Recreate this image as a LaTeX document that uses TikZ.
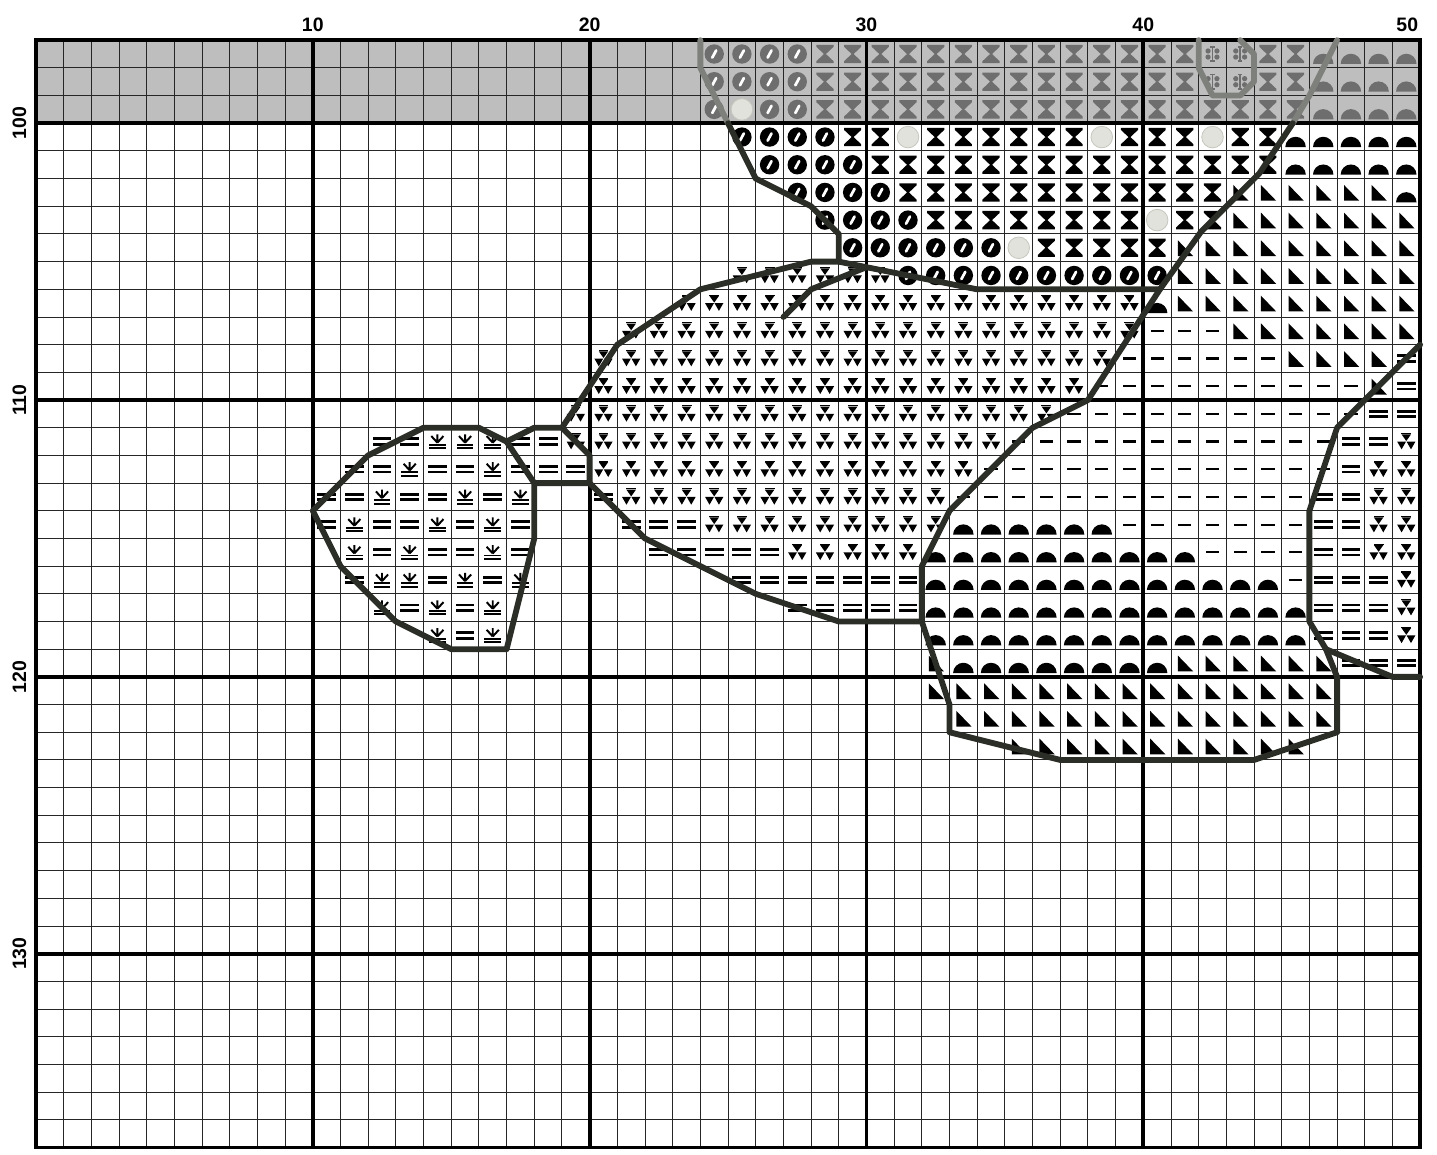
\documentclass[tikz,border=0pt]{standalone}
\usepackage{fontspec}
\setsansfont{Liberation Sans}
\usepackage{tikz}
\usetikzlibrary{calc}
\usepackage{xcolor}

\definecolor{stitchdark}{HTML}{2A2E26}
\definecolor{stitchgrey}{HTML}{7E817B}
\definecolor{rowshade}{HTML}{BEBEBE}
\definecolor{shadesym}{HTML}{6E6E6E}
\definecolor{wfill}{HTML}{E2E2DC}
\definecolor{wline}{HTML}{C6C6BE}
\colorlet{symcol}{black}

% one macro per chart symbol, drawn in cell (col,row)
\newcommand\symo[2]{\begin{scope}[shift={(#1+.5,#2+.5)},yscale=-1]
  \fill[symcol] (0,0) circle (.35);
  \draw[white, line width=2.8pt, line cap=round] (-.07,-.13) -- (.07,.13);
\end{scope}}
\newcommand\symx[2]{\begin{scope}[shift={(#1+.5,#2+.5)},yscale=-1]
  \fill[symcol] (-.31,.33) -- (.31,.33) -- (.31,.26) -- (.035,0) -- (.31,-.26) -- (.31,-.33)
    -- (-.31,-.33) -- (-.31,-.26) -- (-.035,0) -- (-.31,.26) -- cycle;
\end{scope}}
\newcommand\symw[2]{\begin{scope}[shift={(#1+.5,#2+.5)},yscale=-1]
  \filldraw[fill=wfill, draw=wline, line width=.8pt] (0,0) circle (.39);
\end{scope}}
\newcommand\symt[2]{\begin{scope}[shift={(#1+.5,#2+.5)},yscale=-1]
  \fill[symcol] (-.18,.31) rectangle (.18,.27);
  \fill[symcol] (-.17,.26) -- (.17,.26) -- (0,.02) -- cycle;
  \fill[symcol] (-.33,.0) -- (-.01,.0) -- (-.17,-.28) -- cycle;
  \fill[symcol] (.01,.0) -- (.33,.0) -- (.17,-.28) -- cycle;
\end{scope}}
\newcommand\syme[2]{\begin{scope}[shift={(#1+.5,#2+.5)},yscale=-1]
  \fill[symcol] (-.34,.15) rectangle (.34,.05);
  \fill[symcol] (-.34,-.05) rectangle (.34,-.15);
\end{scope}}
\newcommand\symd[2]{\begin{scope}[shift={(#1+.5,#2+.5)},yscale=-1]
  \fill[symcol] (-.24,.04) rectangle (.24,-.04);
\end{scope}}
\newcommand\symh[2]{\begin{scope}[shift={(#1+.5,#2+.5)},yscale=-1]
  \fill[symcol] (-.37,-.36) arc (180:0:.37) -- cycle;
\end{scope}}
\newcommand\symr[2]{\begin{scope}[shift={(#1+.5,#2+.5)},yscale=-1]
  \fill[symcol] (-.25,.27) -- (-.25,-.3) -- (.3,-.3) -- cycle;
\end{scope}}
\newcommand\syms[2]{\begin{scope}[shift={(#1+.5,#2+.5)},yscale=-1]
  \draw[symcol, line width=2pt] (0,-.04) -- (0,.26) (0,-.04) -- (-.22,.2) (0,-.04) -- (.22,.2);
  \fill[symcol] (-.3,-.08) rectangle (.3,-.15);
  \fill[symcol] (-.3,-.21) rectangle (.3,-.28);
\end{scope}}
\newcommand\symf[2]{\begin{scope}[shift={(#1+.5,#2+.5)},yscale=-1]
  \draw[symcol, line width=1.6pt] (0,-.26) -- (0,.26) (-.08,.26) -- (.08,.26) (-.08,-.26) -- (.08,-.26);
  \foreach \px/\py in {-.16/.11, .16/.11, -.16/-.11, .16/-.11}
    \fill[symcol] (\px,\py) circle (.095);
\end{scope}}

\begin{document}
\begin{tikzpicture}[
        x=1cm, y=-1cm,
        gridline/.style={line width=1pt, black!85},
        majorline/.style={line width=4pt, black, line cap=rect},
        stitch/.style={line width=6pt, stitchdark, line join=round, line cap=round},
        greystitch/.style={line width=6pt, stitchgrey, line join=round, line cap=round},
        collabel/.style={font=\sffamily\bfseries\fontsize{20}{24}\selectfont},
        rowlabel/.style={font=\sffamily\bfseries\fontsize{20}{24}\selectfont, rotate=90}
    ]
    \useasboundingbox (-1.30,95.55) rectangle (50.61,137.25);

    % ============================================================
    % SHADED ROWS AND GRID
    % ============================================================
    \fill[fill=rowshade] (0,97) rectangle (50,100);
    \foreach \c in {0,...,50} \draw[gridline] (\c,97) -- (\c,137);
    \foreach \r in {97,...,137} \draw[gridline] (0,\r) -- (50,\r);

    % ============================================================
    % SYMBOLS: shaded rows
    % ============================================================
    \begin{scope}
    \colorlet{symcol}{shadesym}
    \foreach \r/\a/\b/\s in {
        97/24/27/o, 97/28/41/x, 97/42/43/f, 97/44/45/x, 97/46/49/h,
        98/24/27/o, 98/28/41/x, 98/42/43/f, 98/44/45/x, 98/46/49/h,
        99/24/24/o, 99/25/25/w, 99/26/27/o, 99/28/45/x, 99/46/49/h}
      \foreach \c in {\a,...,\b} {\csname sym\s\endcsname{\c}{\r}};
    \end{scope}

    % ============================================================
    % SYMBOLS: main area
    % ============================================================
    \foreach \r/\a/\b/\s in {
        100/25/28/o, 100/29/30/x, 100/31/31/w, 100/32/37/x, 100/38/38/w, 100/39/41/x, 100/42/42/w, 100/43/44/x, 100/45/49/h,
        101/26/29/o, 101/30/44/x, 101/45/49/h,
        102/27/30/o, 102/31/42/x, 102/43/48/r, 102/49/49/h,
        103/28/31/o, 103/32/39/x, 103/40/40/w, 103/41/42/x, 103/43/49/r,
        104/29/34/o, 104/35/35/w, 104/36/40/x, 104/41/49/r,
        105/25/30/t, 105/31/40/o, 105/41/49/r,
        106/23/39/t, 106/40/40/h, 106/41/49/r,
        107/21/39/t, 107/40/42/d, 107/43/49/r,
        108/20/38/t, 108/39/44/d, 108/45/48/r, 108/49/49/e,
        109/20/37/t, 109/38/47/d, 109/48/48/r, 109/49/49/e,
        110/19/36/t, 110/37/47/d, 110/48/49/e,
        111/12/13/e, 111/14/16/s, 111/17/18/e, 111/19/34/t, 111/35/46/d, 111/47/48/e, 111/49/49/t,
        112/11/12/e, 112/13/13/s, 112/14/15/e, 112/16/16/s, 112/17/19/e, 112/20/33/t, 112/34/46/d, 112/47/47/e, 112/48/49/t,
        113/10/11/e, 113/12/12/s, 113/13/14/e, 113/15/15/s, 113/16/16/e, 113/17/17/s, 113/20/20/e, 113/21/32/t, 113/33/45/d, 113/46/47/e, 113/48/49/t,
        114/10/10/e, 114/11/11/s, 114/12/13/e, 114/14/14/s, 114/15/15/e, 114/16/16/s, 114/17/17/e, 114/21/23/e, 114/24/32/t, 114/33/38/h, 114/39/45/d, 114/46/47/e, 114/48/49/t,
        115/11/11/s, 115/12/12/e, 115/13/13/s, 115/14/15/e, 115/16/16/s, 115/17/17/e, 115/22/26/e, 115/27/31/t, 115/32/41/h, 115/42/45/d, 115/46/47/e, 115/48/49/t,
        116/11/11/e, 116/12/13/s, 116/14/14/e, 116/15/15/s, 116/16/16/e, 116/17/17/s, 116/25/31/e, 116/32/44/h, 116/45/45/d, 116/46/48/e, 116/49/49/t,
        117/12/12/s, 117/13/13/e, 117/14/14/s, 117/15/15/e, 117/16/16/s, 117/27/31/e, 117/32/45/h, 117/46/48/e, 117/49/49/t,
        118/14/14/s, 118/15/15/e, 118/16/16/s, 118/32/45/h, 118/46/48/e, 118/49/49/t,
        119/32/32/r, 119/33/40/h, 119/41/46/r, 119/47/49/e,
        120/32/46/r,
        121/33/46/r,
        122/35/45/r}
      \foreach \c in {\a,...,\b} {\csname sym\s\endcsname{\c}{\r}};

    % ============================================================
    % MAJOR LINES
    % ============================================================
    \foreach \c in {0,10,...,50} \draw[majorline] (\c,97) -- (\c,137);
    \foreach \r in {97,100,110,120,130,137} \draw[majorline] (0,\r) -- (50,\r);

    % ============================================================
    % BACKSTITCH
    % ============================================================
    \draw[greystitch] (24,97) -- (24,98) -- (25,100);
    \draw[greystitch] (47,97) -- (46,99) -- (45.4,100);
    \draw[greystitch] (42,97) -- (42,98) -- (42.5,99) -- (43.5,99) -- (44,98.5) -- (44,97.5) -- (43.5,97);

    \draw[stitch] (25,100) -- (26,102) -- (28,103) -- (29,104) -- (29,105);
    \draw[stitch] (19,111) -- (21,108) -- (24,106) -- (28,105) -- (29,105) -- (34,106) -- (40.6,106);
    \draw[stitch] (27,107) -- (28,106) -- (30,105.2);
    \draw[stitch] (45.4,100) -- (44.2,101.8) -- (42.1,103.9) -- (40.6,106) -- (38,110) -- (36,111)
        -- (33,114) -- (32,116) -- (32,118) -- (33,121) -- (33,122) -- (37,123) -- (44,123)
        -- (47,122) -- (47,120) -- (46.6,119) -- (46,118) -- (46,114) -- (47,111) -- (50,108);
    \draw[stitch] (46.6,119) -- (49,120) -- (50,120);
    \draw[stitch] (20,113) -- (22,115) -- (26,117) -- (29,118) -- (32,118);
    \draw[stitch] (17,111.5) -- (18,111) -- (19,111) -- (20,112) -- (20,113) -- (18,113);
    \draw[stitch] (18,113) -- (18,115) -- (17,119) -- (15,119) -- (13,118) -- (11,116)
        -- (10,114) -- (12,112) -- (14,111) -- (16,111) -- (17,111.5) -- cycle;

    % ============================================================
    % LABELS
    % ============================================================
    \foreach \c in {10,20,30,40} \node[collabel] (col\c) at (\c,96.46) {\c};
    \node[collabel, anchor=east] (col50) at (50.05,96.46) {50};
    \foreach \r in {100,110,120,130} \node[rowlabel] (row\r) at (-0.6,\r) {\r};

\end{tikzpicture}
\end{document}
